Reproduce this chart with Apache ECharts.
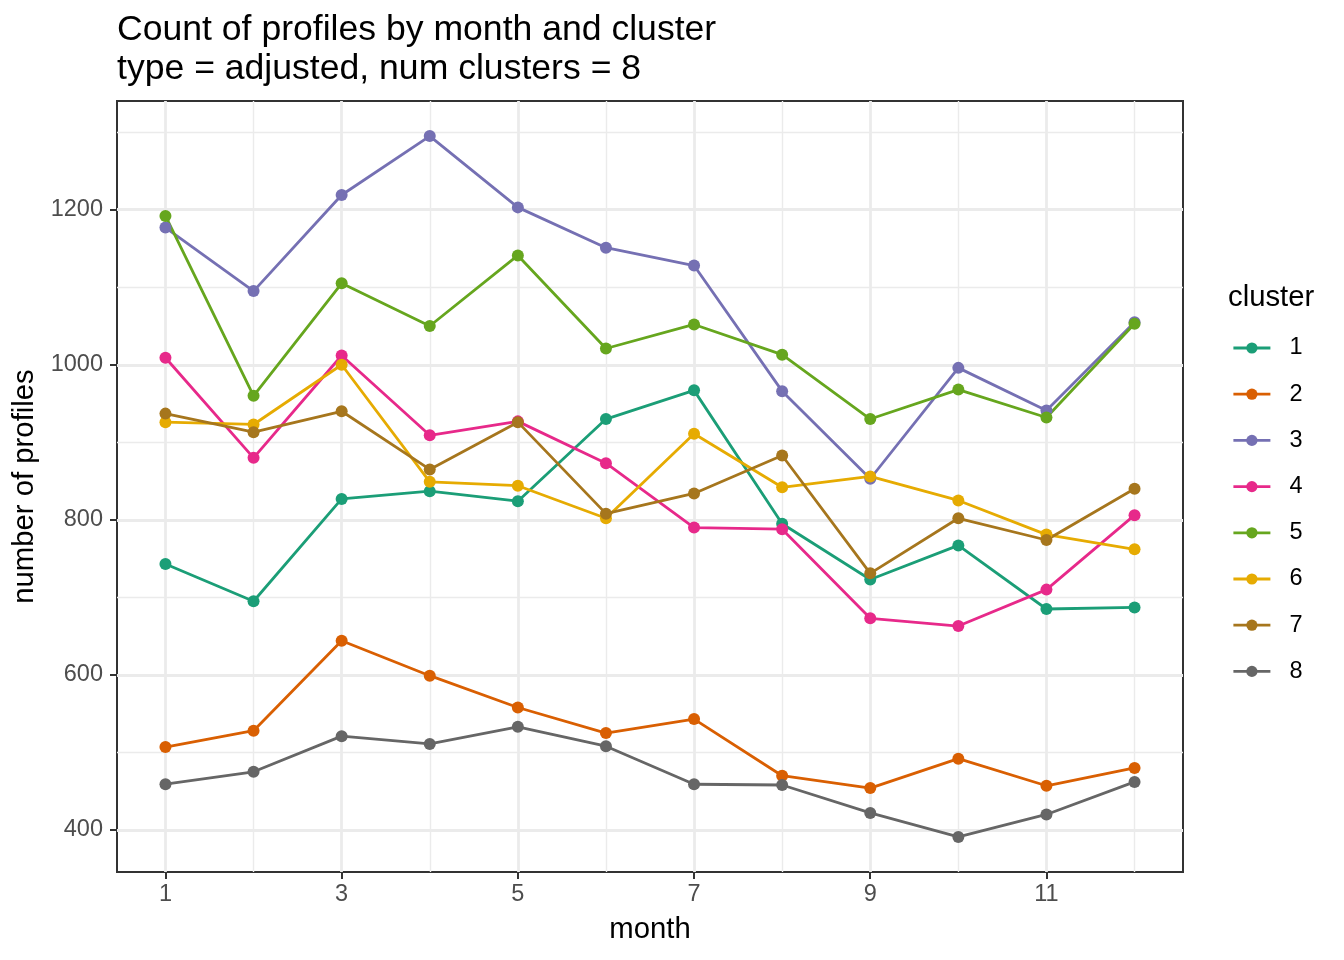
<!DOCTYPE html>
<html>
<head>
<meta charset="utf-8">
<script src="https://cdn.jsdelivr.net/npm/echarts@6/dist/echarts.min.js"></script>
<style>
html,body{margin:0;padding:0;background:#ffffff;}
#chart{width:1344px;height:960px;}
</style>
</head>
<body>
<div id="chart"></div>
<script>
// ---- data ----
const months = [1, 2, 3, 4, 5, 6, 7, 8, 9, 10, 11, 12];
const clusterNames = ['1', '2', '3', '4', '5', '6', '7', '8'];
const cluster1 = [743, 695, 827, 837, 824, 930, 967, 795, 723, 767, 685, 687];
const cluster2 = [507, 528, 644, 599, 558, 525, 543, 470, 454, 492, 457, 480];
const cluster3 = [1177, 1095, 1219, 1295, 1203, 1151, 1128, 966, 853, 996, 941, 1055];
const cluster4 = [1009, 880, 1012, 909, 927, 873, 790, 788, 673, 663, 710, 806];
const cluster5 = [1192, 960, 1105, 1050, 1141, 1021, 1052, 1013, 930, 968, 932, 1053];
const cluster6 = [926, 923, 1000, 849, 844, 802, 911, 842, 856, 825, 781, 762];
const cluster7 = [937, 913, 940, 865, 926, 808, 834, 883, 731, 802, 774, 840];
const cluster8 = [459, 475, 521, 511, 533, 508, 459, 458, 422, 391, 420, 462];
const xMajorTicks = [1, 3, 5, 7, 9, 11];
const xMinorTicks = [2, 4, 6, 8, 10, 12];
const yMajorTicks = [400, 600, 800, 1000, 1200];
const yMinorTicks = [500, 700, 900, 1100, 1300];

const allClusters = [cluster1, cluster2, cluster3, cluster4, cluster5, cluster6, cluster7, cluster8];
const palette = ['#1B9E77', '#D95F02', '#7570B3', '#E7298A', '#66A61E', '#E6AB02', '#A6761D', '#666666'];
const FONT = '"Liberation Sans", Arial, Helvetica, sans-serif';

// ggplot-style 5% expansion
const allVals = [].concat(...allClusters);
const yLo = Math.min(...allVals), yHi = Math.max(...allVals);
const yPad = (yHi - yLo) * 0.05;
const xLo = Math.min(...months), xHi = Math.max(...months);
const xPad = (xHi - xLo) * 0.05;
const xMin = xLo - xPad, xMax = xHi + xPad;
const yMin = yLo - yPad, yMax = yHi + yPad;

const series = allClusters.map((vals, i) => ({
  name: clusterNames[i],
  type: 'line',
  xAxisIndex: 0,
  yAxisIndex: 0,
  data: months.map((m, j) => [m, vals[j]]),
  symbol: 'circle',
  symbolSize: 12,
  showSymbol: true,
  color: palette[i],
  lineStyle: { width: 2.8, color: palette[i] },
  itemStyle: { color: palette[i] },
  emphasis: { disabled: true },
  z: 3
}));

const chart = echarts.init(document.getElementById('chart'), null, { renderer: 'canvas' });
chart.setOption({
  animation: false,
  backgroundColor: '#ffffff',
  title: {
    text: 'Count of profiles by month and cluster\ntype = adjusted, num clusters = 8',
    left: 117,
    top: 11,
    padding: 0,
    textStyle: { fontFamily: FONT, fontSize: 35.6, lineHeight: 39, fontWeight: 'normal', color: '#000000' }
  },
  graphic: [{
    type: 'text',
    left: 1228,
    top: 283,
    style: { text: 'cluster', font: '29.3px ' + FONT, fill: '#000000' }
  }],
  legend: {
    orient: 'vertical',
    left: 1232,
    top: 336,
    itemWidth: 37,
    itemHeight: 14,
    itemGap: 22.2,
    padding: 0,
    data: clusterNames,
    lineStyle: { width: 2.8 },
    textStyle: { fontFamily: FONT, fontSize: 23.5, lineHeight: 24, color: '#000000', padding: [0, 0, 0, 14] }
  },
  grid: {
    left: 117, right: 161, top: 101, bottom: 88,
    show: true,
    backgroundColor: '#ffffff',
    borderColor: '#333333',
    borderWidth: 2,
    containLabel: false,
    outerBoundsMode: 'none'
  },
  xAxis: [{
    type: 'value',
    min: xMin, max: xMax,
    position: 'bottom',
    name: 'month',
    nameLocation: 'middle',
    nameGap: 43,
    nameTextStyle: { fontFamily: FONT, fontSize: 29.3, color: '#000000' },
    axisLine: { show: false, onZero: false },
    axisTick: { show: true, length: 7, lineStyle: { color: '#333333', width: 2 }, customValues: xMajorTicks },
    axisLabel: { customValues: xMajorTicks, margin: 11, fontFamily: FONT, fontSize: 23.5, color: '#4D4D4D', formatter: v => String(v) },
    splitLine: { show: true, lineStyle: { color: '#EBEBEB', width: 2.8 } }
  }, {
    type: 'value',
    min: xMin, max: xMax,
    position: 'bottom',
    axisLine: { show: false, onZero: false },
    axisTick: { show: false, customValues: xMinorTicks },
    axisLabel: { show: false },
    splitLine: { show: true, lineStyle: { color: '#EBEBEB', width: 1.4 } }
  }],
  yAxis: [{
    type: 'value',
    min: yMin, max: yMax,
    position: 'left',
    name: 'number of profiles',
    nameLocation: 'middle',
    nameGap: 74,
    nameTextStyle: { fontFamily: FONT, fontSize: 29.3, color: '#000000' },
    axisLine: { show: false, onZero: false },
    axisTick: { show: true, length: 7, lineStyle: { color: '#333333', width: 2 }, customValues: yMajorTicks },
    axisLabel: { customValues: yMajorTicks, margin: 14, fontFamily: FONT, fontSize: 23.5, color: '#4D4D4D', formatter: v => String(v) },
    splitLine: { show: true, lineStyle: { color: '#EBEBEB', width: 2.8 } }
  }, {
    type: 'value',
    min: yMin, max: yMax,
    position: 'left',
    axisLine: { show: false, onZero: false },
    axisTick: { show: false, customValues: yMinorTicks },
    axisLabel: { show: false },
    splitLine: { show: true, lineStyle: { color: '#EBEBEB', width: 1.4 } }
  }],
  series: series
});
</script>
</body>
</html>
